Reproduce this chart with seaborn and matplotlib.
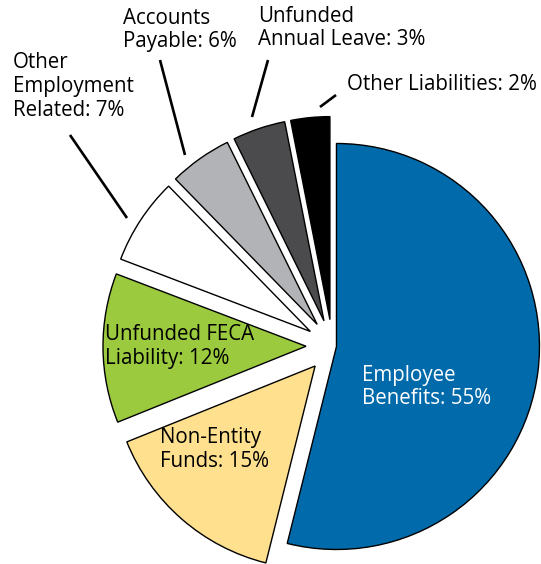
import matplotlib
matplotlib.use("Agg")
import matplotlib.pyplot as plt
import seaborn as sns

# ---- data ----
categories = ["Employee Benefits", "Non-Entity Funds", "Unfunded FECA Liability",
              "Other Employment Related", "Accounts Payable",
              "Unfunded Annual Leave", "Other Liabilities"]
# wedge sizes as drawn in the picture (percent of circle)
shares = [53.9, 15.0, 11.9, 6.9, 5.0, 4.2, 3.1]
# percentages printed in the labels
label_pct = [55, 15, 12, 7, 6, 3, 2]
label_text = ["Employee\nBenefits: {}%", "Non-Entity\nFunds: {}%",
              "Unfunded FECA\nLiability: {}%", "Other\nEmployment\nRelated: {}%",
              "Accounts\nPayable: {}%", "Unfunded\nAnnual Leave: {}%",
              "Other Liabilities: {}%"]
colors = ["#006AAB", "#FEE08E", "#9BCA3E", "#FFFFFF", "#B1B3B6", "#4B4B4D", "#000000"]

sns.set_theme(style="white")
plt.rcParams['font.family'] = ['Open Sans', 'DejaVu Sans']

W, H = 541, 564
fig = plt.figure(figsize=(W / 100, H / 100), dpi=100)
ax = fig.add_axes([0, 0, 1, 1])

cx, cy = 332.5, H - 346
R = 203
explode = [4, 26.5, 26.5, 26.5, 26.5, 26.5, 26.5]
ax.pie(shares, colors=colors, explode=explode, startangle=90, counterclock=False,
       radius=R, center=(cx, cy), frame=True,
       wedgeprops=dict(edgecolor="black", linewidth=1.0))
ax.set_xlim(0, W)
ax.set_ylim(0, H)
ax.set_aspect("equal")
ax.axis("off")

# label placement (pixel coords from top-left), text colour
pos = [(362, 387, "white"), (160, 449.5, "black"), (105, 346.5, "black"),
       (13, 86.5, "black"), (123, 30, "black"), (258, 28, "black"),
       (347, 84, "black")]
for txt, pct, (x, y, c) in zip(label_text, label_pct, pos):
    ax.text(x, H - y, txt.format(pct), ha="left", va="center", fontsize=14.8,
            color=c, linespacing=1.18)

# leader lines
leaders = [((320, 107), (336, 95)), ((252, 117), (268, 60)),
           ((185, 155), (160, 60)), ((127, 218), (70, 135))]
for (x0, y0), (x1, y1) in leaders:
    ax.plot([x0, x1], [H - y0, H - y1], color="black", lw=1.9, solid_capstyle="butt")

fig.savefig("out.png", dpi=100)
